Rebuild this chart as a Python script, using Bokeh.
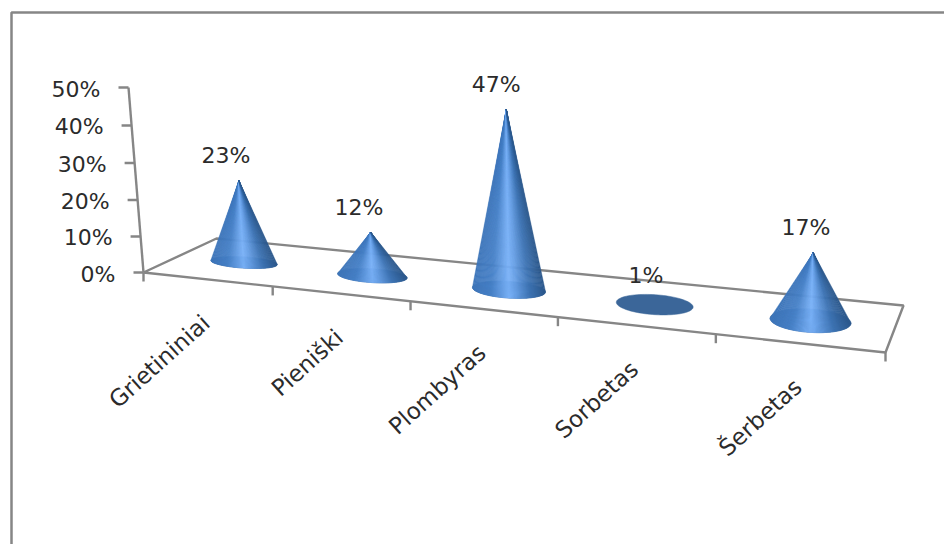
import numpy as np
from bokeh.core.properties import value
from bokeh.embed import file_html
from bokeh.models import ColumnDataSource
from bokeh.plotting import figure
from bokeh.resources import INLINE

# Chart values
categories = ["Grietininiai", "Pieniški", "Plombyras", "Sorbetas", "Šerbetas"]
shares = [23, 12, 47, 1, 17]
share_ticks = [0, 10, 20, 30, 40, 50]

# Perspective set-up: floor corners in page pixels and the vertical direction
FLOOR_UV = [(0, 0), (5, 0), (5, 1), (0, 1)]
FLOOR_PX = [(143, 272), (885, 352), (903, 305), (216, 238)]
AXIS_TOP = (128, 87)
GREY = "#868686"
INK = "#2b2b2b"
FONT = value("DejaVu Sans")


def floor_matrix():
    rows, rhs = [], []
    for (u, v), (x, y) in zip(FLOOR_UV, FLOOR_PX):
        rows.append([u, v, 1, 0, 0, 0, -u * x, -v * x])
        rows.append([0, 0, 0, u, v, 1, -u * y, -v * y])
        rhs += [x, y]
    return np.append(np.linalg.solve(np.array(rows, float), np.array(rhs, float)), 1).reshape(3, 3)


H = floor_matrix()
# Column for height: foreshortening chosen so the 50% mark lands at the axis top
s = -0.00065
vx = (AXIS_TOP[0] * (1 + 50 * s) - FLOOR_PX[0][0]) / (50 * s)
vy = (AXIS_TOP[1] * (1 + 50 * s) - FLOOR_PX[0][1]) / (50 * s)
Z = s * np.array([vx, vy, 1.0])


def project(u, v, z=0.0):
    q = H @ np.array([u, v, 1.0]) + z * Z
    return q[0] / q[2], q[1] / q[2]


def mix(a, b, t):
    return tuple(a[k] + (b[k] - a[k]) * t for k in range(3))


def shade(t):
    """Metallic blue across a cone, t running 0 (left) to 1 (right)."""
    stops = [
        (0.00, (62, 118, 186)),
        (0.25, (72, 130, 200)),
        (0.50, (122, 178, 248)),
        (0.60, (104, 160, 230)),
        (0.80, (62, 116, 180)),
        (1.00, (44, 88, 140)),
    ]
    for (t0, c0), (t1, c1) in zip(stops, stops[1:]):
        if t <= t1:
            r, g, b = mix(c0, c1, (t - t0) / (t1 - t0))
            return f"#{int(r):02x}{int(g):02x}{int(b):02x}"
    return "#2c588c"


p = figure(
    width=944, height=544, x_range=(0, 944), y_range=(544, 0),
    output_backend="svg", toolbar_location=None, min_border=0,
    background_fill_color="white", border_fill_color="white",
)
p.axis.visible = False
p.grid.visible = False
p.outline_line_color = None

# Outer chart frame
p.line([944, 11, 11], [12, 12, 544], line_color=GREY, line_width=2.5)

# Floor outline and the vertical axis
corners = [project(*uv) for uv in FLOOR_UV]
ring = corners + [corners[0]]
p.line([c[0] for c in ring], [c[1] for c in ring], line_color=GREY, line_width=2.4)
bottom, top = project(0, 0, 0), project(0, 0, share_ticks[-1])
p.line([bottom[0], top[0]], [bottom[1], top[1]], line_color=GREY, line_width=2.4)

# Value axis ticks and labels
for t in share_ticks:
    x, y = project(0, 0, t)
    p.line([x - 10, x], [y, y], line_color=GREY, line_width=2.4)
p.text(
    x=[project(0, 0, t)[0] - 28 for t in share_ticks],
    y=[project(0, 0, t)[1] + 1.5 for t in share_ticks],
    text=[f"{t}%" for t in share_ticks],
    text_align="right", text_baseline="middle", text_font=FONT,
    text_font_size="22px", text_color=INK,
)

# Category ticks along the front edge of the floor
for i in range(len(categories) + 1):
    x, y = project(i, 0)
    p.line([x, x], [y, y + 9], line_color=GREY, line_width=2.4)

# Category labels, rotated and anchored at their right end
label_x, label_y = [], []
for i in range(len(categories)):
    x, y = project(i + 0.5, 0)
    label_x.append(x - 1)
    label_y.append(y + 40)
p.text(
    x=label_x, y=label_y, text=categories, angle=np.radians(42),
    text_align="right", text_baseline="middle", text_font=FONT,
    text_font_size="23px", text_color=INK,
)

# Cones: thin slices from the apex to the front arc of the base
xs, ys, colors = [], [], []
ell_x, ell_y = [], []
val_x, val_y = [], []
for i, share in enumerate(shares):
    uc = i + 0.525 - 0.008 * i
    half = 0.265 - 0.004 * i
    cx, cy = project(uc, 0.47)
    ax, ay = project(uc, 0.47, share)
    left, right = project(uc - half, 0.47), project(uc + half, 0.47)
    rx = (right[0] - left[0]) / 2
    ry = rx * (0.17 + 0.03 * i)
    tilt = (right[1] - left[1]) / (right[0] - left[0]) * 0.6
    theta = np.linspace(0, 2 * np.pi, 90)
    ell_x.append(cx + rx * np.cos(theta))
    ell_y.append(cy + ry * np.sin(theta) + tilt * rx * np.cos(theta))
    val_x.append(ax - 13 + 1.4 * i)
    val_y.append(ay - 25)
    if cy - ay <= ry:
        continue
    n = 70
    edges = np.arccos(np.linspace(-1, 1, n + 1))
    for k in range(n):
        th = np.linspace(edges[k], edges[k + 1], 3)
        xs.append(np.r_[ax, cx + rx * np.cos(th)])
        ys.append(np.r_[ay, cy + ry * np.sin(th) + tilt * rx * np.cos(th)])
        colors.append(shade((k + 0.5) / n))

p.patches(ell_x, ell_y, fill_color="#3b6699", line_color="#3b6699", line_width=0.5)
p.patches(
    source=ColumnDataSource(dict(xs=xs, ys=ys, color=colors)), xs="xs", ys="ys",
    fill_color="color", line_color="color", line_width=0.5,
)

# Value labels over the cones
p.text(
    x=val_x, y=val_y, text=[f"{v}%" for v in shares],
    text_align="center", text_baseline="middle", text_font=FONT,
    text_font_size="22px", text_color=INK,
)

open("out.html", "w").write(file_html(p, INLINE))
